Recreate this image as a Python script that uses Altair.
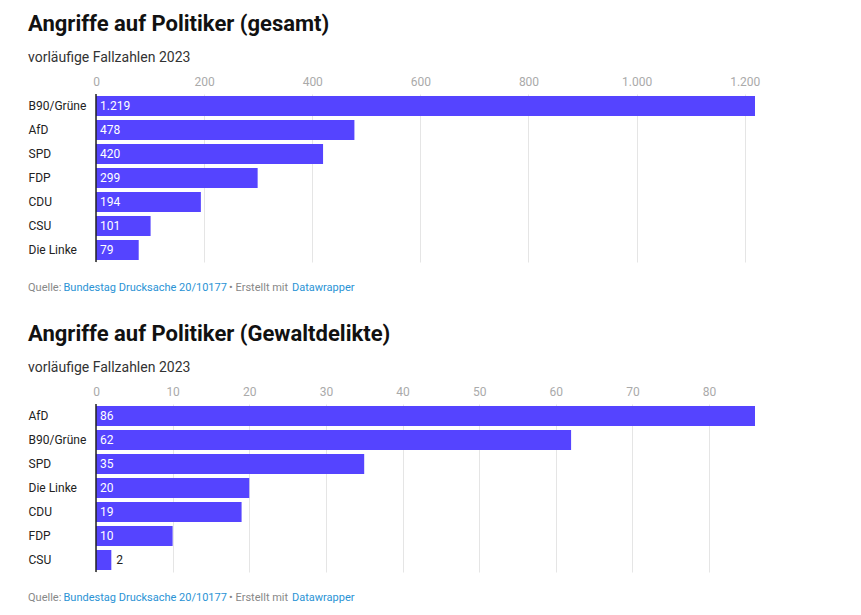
import altair as alt
import pandas as pd

# ---- data ----
parties_total = ["B90/Grüne", "AfD", "SPD", "FDP", "CDU", "CSU", "Die Linke"]
values_total = [1219, 478, 420, 299, 194, 101, 79]
ticks_total = [0, 200, 400, 600, 800, 1000, 1200]

parties_violent = ["AfD", "B90/Grüne", "SPD", "Die Linke", "CDU", "FDP", "CSU"]
values_violent = [86, 62, 35, 20, 19, 10, 2]
ticks_violent = [0, 10, 20, 30, 40, 50, 60, 70, 80]

titles = ["Angriffe auf Politiker (gesamt)", "Angriffe auf Politiker (Gewaltdelikte)"]
subtitle = "vorläufige Fallzahlen 2023"
footer_parts = ["Quelle:", "Bundestag Drucksache 20/10177", "• Erstellt mit", "Datawrapper"]

BAR = "#5544ff"
FONT = "Roboto"
W = 659
H = 168
DE = "replace(format({v}, ','), ',', '.')"


def panel(title, parties, values, ticks, inside_min):
    df = pd.DataFrame({"partei": parties, "wert": values})
    base = alt.Chart(df).transform_calculate(label=DE.format(v="datum.wert"))
    y = alt.Y(
        "partei:N", sort=parties, title=None,
        scale=alt.Scale(paddingInner=4 / 24, paddingOuter=1 / 12),
        axis=alt.Axis(labelAlign="left", labelPadding=68, ticks=False, domain=False,
                      labelFont=FONT, labelFontSize=12, labelColor="#222"),
    )
    x = alt.X(
        "wert:Q", title=None,
        scale=alt.Scale(domain=[0, max(values)], nice=False),
        axis=alt.Axis(orient="top", values=ticks, labelExpr=DE.format(v="datum.value"),
                      domain=False, ticks=False, grid=True, gridColor="#e5e5e5",
                      labelColor="#aaaaaa", labelFont=FONT, labelFontSize=12,
                      labelPadding=6, labelFlush=False),
    )
    bars = base.mark_bar(color=BAR).encode(x=x, y=y)
    inside = base.transform_filter(f"datum.wert >= {inside_min}").mark_text(
        align="left", baseline="middle", dx=4, color="white", font=FONT, fontSize=12
    ).encode(x=alt.datum(0), y=alt.Y("partei:N", sort=parties), text="label:N")
    outside = base.transform_filter(f"datum.wert < {inside_min}").mark_text(
        align="left", baseline="middle", dx=5, color="#222", font=FONT, fontSize=12
    ).encode(x="wert:Q", y=alt.Y("partei:N", sort=parties), text="label:N")
    zero = alt.Chart(pd.DataFrame({"z": [0]})).mark_rule(color="#222", strokeWidth=1.5).encode(
        x="z:Q"
    )
    offs = [-68, -32.5, 133, 196]
    cols = ["#888888", "#2a93d5", "#888888", "#2a93d5"]
    foot = []
    for t, o, c in zip(footer_parts, offs, cols):
        foot.append(
            alt.Chart(pd.DataFrame({"t": [t]})).mark_text(
                align="left", baseline="alphabetic", font=FONT, fontSize=11, color=c
            ).encode(text="t:N", x=alt.value(o), y=alt.value(H + 29))
        )
    return alt.layer(bars, zero, inside, outside, *foot).properties(
        width=W, height=H,
        title=alt.TitleParams(
            text=title, subtitle=subtitle, anchor="start", font=FONT, fontSize=22,
            fontWeight="bold", color="#111", subtitleFont=FONT, subtitleFontSize=14,
            subtitleColor="#333", subtitlePadding=15, offset=9,
        ),
    )


chart = alt.vconcat(
    panel(titles[0], parties_total, values_total, ticks_total, 5),
    panel(titles[1], parties_violent, values_violent, ticks_violent, 5),
    spacing=30,
).configure_view(stroke=None).properties(
    padding={"left": 20, "top": 5, "right": 10, "bottom": 0}
)

chart.save("out.html", embed_options={"renderer": "svg", "actions": False})
